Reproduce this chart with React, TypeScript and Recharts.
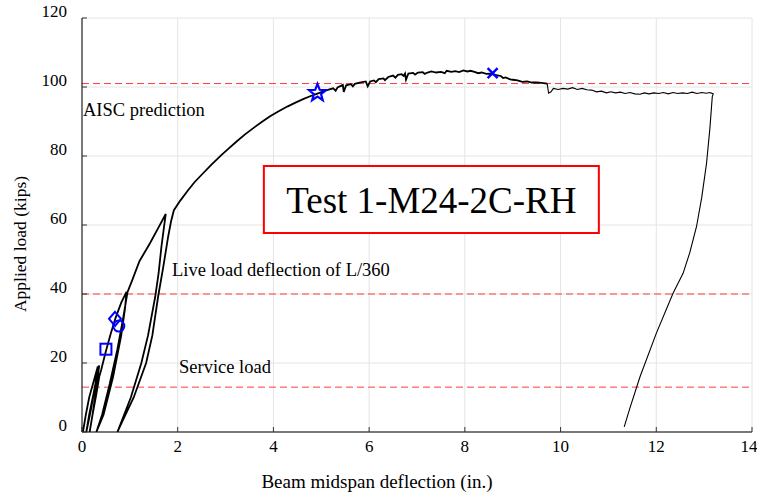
import React from 'react';
import {
  ComposedChart,
  Line,
  Scatter,
  XAxis,
  YAxis,
  CartesianGrid,
  ReferenceLine,
  ReferenceArea,
} from 'recharts';

const FONT = "'Liberation Serif', 'Times New Roman', Times, serif";
const BLUE = '#0000ff';
const RED = '#ff3b3b';

const xTicks = [0, 2, 4, 6, 8, 10, 12, 14];
const yTicks = [0, 20, 40, 60, 80, 100, 120];

// [deflection (in.), load (kips)], in test order
const smallCycles = [
  [0.02, 0], [0.08, 5], [0.15, 10], [0.25, 15], [0.33, 19],
  [0.28, 14], [0.18, 6], [0.09, 0],
  [0.15, 5], [0.24, 11], [0.31, 16], [0.36, 19.3],
  [0.3, 13], [0.22, 5], [0.16, 0],
  [0.22, 5], [0.3, 11], [0.36, 16], [0.4, 18],
];
const cycle40 = [
  [0.5, 23.5], [0.6, 28.5], [0.7, 33], [0.82, 37.5], [0.93, 40.6],
  [0.9, 36], [0.82, 28], [0.65, 16], [0.45, 5], [0.3, 0],
  [0.42, 5], [0.58, 14], [0.74, 24], [0.86, 33], [0.95, 40.5],
];
const cycle63 = [
  [1.05, 44], [1.2, 49.5], [1.42, 54.7], [1.6, 59.3], [1.75, 63.2],
  [1.7, 58], [1.66, 53.7], [1.6, 46], [1.53, 39.2], [1.38, 28], [1.24, 20],
  [1.02, 10], [0.88, 5], [0.74, 0],
  [0.84, 3], [1.08, 10], [1.34, 20], [1.47, 28], [1.59, 39.2], [1.7, 48],
  [1.8, 56.6], [1.86, 61], [1.92, 64.3],
];
const envelope = [
  [2.05, 67.0], [2.2, 69.8], [2.35, 72.4], [2.53, 75.0], [2.7, 77.4], [2.9, 80.1],
  [3.05, 82.0], [3.23, 84.2], [3.4, 86.2], [3.6, 88.3], [3.77, 90.0], [3.93, 91.5],
  [4.1, 92.9], [4.3, 94.4], [4.45, 95.4], [4.62, 96.5], [4.78, 97.4], [4.92, 98.1],
  [5.1, 99.0], [5.25, 99.6], [5.3, 98.9], [5.34, 99.9], [5.45, 100.6], [5.47, 98.6],
  [5.52, 100.5], [5.62, 100.8], [5.66, 100.2], [5.7, 100.9], [5.8, 101.3], [5.93, 101.6],
  [5.97, 100.2], [6.02, 101.6], [6.1, 101.9], [6.14, 101.4], [6.2, 102.3], [6.3, 102.5],
  [6.33, 102.0], [6.4, 102.9], [6.5, 103.3], [6.55, 102.7], [6.6, 103.5], [6.68, 103.7],
  [6.72, 103.2], [6.75, 103.9], [6.77, 102.1], [6.82, 103.9], [6.92, 104.1], [6.96, 103.6],
  [7.02, 104.2], [7.12, 104.3], [7.16, 103.8], [7.22, 104.2], [7.3, 104.5], [7.4, 104.2],
  [7.5, 104.4], [7.58, 104.0], [7.62, 104.7], [7.72, 104.4], [7.8, 104.6], [7.88, 104.3],
  [7.97, 104.8], [8.05, 104.5], [8.12, 104.7], [8.2, 104.4], [8.28, 104.0], [8.35, 104.2],
  [8.45, 103.8], [8.52, 103.9], [8.6, 103.6], [8.68, 103.4], [8.75, 103.2], [8.8, 102.6],
  [8.85, 102.8], [8.95, 102.2], [9.0, 102.1], [9.1, 101.9], [9.2, 101.5], [9.3, 101.6],
  [9.4, 101.3], [9.5, 101.3], [9.6, 101.2], [9.72, 101.0],
];
const plateau = [
  [9.75, 98.2], [9.8, 98.6], [9.85, 99.6], [9.95, 99.3], [10.05, 99.6], [10.15, 99.4],
  [10.25, 99.8], [10.35, 99.3], [10.45, 99.6], [10.55, 99.2], [10.65, 99.1], [10.75, 98.6],
  [10.85, 98.8], [10.96, 98.3], [11.05, 98.6], [11.15, 98.3], [11.25, 98.5], [11.35, 98.1],
  [11.45, 98.4], [11.55, 98.0], [11.66, 97.9], [11.75, 98.3], [11.85, 98.0], [11.95, 98.3],
  [12.05, 98.1], [12.15, 98.4], [12.25, 98.0], [12.35, 98.4], [12.45, 98.1], [12.55, 98.3],
  [12.65, 98.1], [12.75, 98.5], [12.85, 98.1], [12.95, 98.4], [13.05, 98.2], [13.12, 98.4],
  [13.19, 98.0],
];
const unloading = [
  [13.17, 97.2], [13.12, 88], [13.05, 77.9], [12.95, 68], [12.84, 59.5], [12.7, 52],
  [12.56, 46], [12.35, 40.2], [12.0, 28.6], [11.66, 16], [11.45, 7], [11.33, 1.5],
];

const aiscLoad = 101;
const liveLoad = 40;
const serviceLoad = 13;

const squarePt = [{ x: 0.5, y: 24 }];
const diamondPt = [{ x: 0.69, y: 32.8 }];
const circlePt = [{ x: 0.77, y: 30.7 }];
const starPt = [{ x: 4.92, y: 98.3 }];
const crossPt = [{ x: 8.58, y: 104 }];

const toPoints = (pairs: number[][]) => pairs.map(([x, y]) => ({ x, y }));

const preYield = toPoints([...smallCycles, ...cycle40, ...cycle63, ...envelope]);
const postDrop = toPoints([envelope[envelope.length - 1], ...plateau, ...unloading]);

const XTick = ({ x, y, payload }: any) => (
  <text x={x} y={y} dy={15} textAnchor="middle" fontSize={17} fontFamily={FONT} fill="#000">
    {payload.value}
  </text>
);

const YTick = ({ x, y, payload }: any) => (
  <text x={x} y={y} dy={-1} textAnchor="end" fontSize={17} fontFamily={FONT} fill="#000">
    {payload.value}
  </text>
);

const note = (text: string, dx: number, dy: number) => (p: any) => {
  const vb = p.viewBox || { x: 0, y: 0 };
  return (
    <text x={vb.x + dx} y={vb.y + dy} fontSize={18.5} fontFamily={FONT} fill="#000">
      {text}
    </text>
  );
};

const XTitle = (p: any) => {
  const vb = p.viewBox || { x: 0, y: 0, width: 0 };
  return (
    <text x={vb.x + vb.width / 2 - 40} y={vb.y + 56} textAnchor="middle" fontSize={19} fontFamily={FONT} fill="#000">
      Beam midspan deflection (in.)
    </text>
  );
};

// the y title sits a little below the axis centre in the original figure
const YTitle = () => {
  const cx = 20;
  const cy = 244;
  return (
    <text x={cx} y={cy} dy="0.35em" transform={`rotate(-90, ${cx}, ${cy})`} textAnchor="middle" fontSize={17.5} fontFamily={FONT} fill="#000">
      Applied load (kips)
    </text>
  );
};

const SquareMark = ({ cx, cy }: any) => (
  <rect x={cx - 5.5} y={cy - 5.5} width={11} height={11} fill="none" stroke={BLUE} strokeWidth={2} />
);
const DiamondMark = ({ cx, cy }: any) => (
  <path d={`M${cx},${cy - 7}L${cx + 6},${cy}L${cx},${cy + 7}L${cx - 6},${cy}Z`} fill="none" stroke={BLUE} strokeWidth={2} />
);
const CircleMark = ({ cx, cy }: any) => (
  <circle cx={cx} cy={cy} r={5.5} fill="none" stroke={BLUE} strokeWidth={2} />
);
const StarMark = ({ cx, cy }: any) => {
  const pts: string[] = [];
  for (let i = 0; i < 10; i++) {
    const r = i % 2 === 0 ? 9 : 3.8;
    const a = -Math.PI / 2 + (i * Math.PI) / 5;
    pts.push(`${cx + r * Math.cos(a)},${cy + r * Math.sin(a)}`);
  }
  return <polygon points={pts.join(' ')} fill="none" stroke={BLUE} strokeWidth={2.2} />;
};
const CrossMark = ({ cx, cy }: any) => (
  <path d={`M${cx - 5},${cy - 5}L${cx + 5},${cy + 5}M${cx - 5},${cy + 5}L${cx + 5},${cy - 5}`} stroke={BLUE} strokeWidth={2.4} />
);

export default function App() {
  return (
    <div style={{ position: 'absolute', left: 0, top: 0, background: '#fff' }}>
      <ComposedChart width={757} height={493} margin={{ top: 18, right: 5, bottom: 0, left: 0 }}>
        <CartesianGrid stroke="#e4e4e4" strokeWidth={1} />
        <XAxis
          dataKey="x"
          type="number"
          domain={[0, 14]}
          ticks={xTicks}
          height={61}
          tickSize={-5}
          tickMargin={10}
          tick={<XTick />}
          axisLine={{ stroke: '#000' }}
          tickLine={{ stroke: '#333' }}
          allowDataOverflow
          label={XTitle}
        />
        <XAxis
          xAxisId="top"
          orientation="top"
          type="number"
          domain={[0, 14]}
          ticks={xTicks}
          height={0}
          tickSize={-5}
          tick={false}
          axisLine={{ stroke: '#000' }}
          tickLine={{ stroke: '#333' }}
        />
        <YAxis
          dataKey="y"
          type="number"
          domain={[0, 120]}
          ticks={yTicks}
          width={82}
          tickSize={-5}
          tickMargin={20}
          tick={<YTick />}
          axisLine={{ stroke: '#000' }}
          tickLine={{ stroke: '#333' }}
          allowDataOverflow
          label={YTitle}
        />
        <YAxis
          yAxisId="right"
          orientation="right"
          type="number"
          domain={[0, 120]}
          ticks={yTicks}
          width={0}
          tickSize={-5}
          tick={false}
          axisLine={{ stroke: '#000' }}
          tickLine={{ stroke: '#333' }}
        />
        <ReferenceLine y={aiscLoad} stroke={RED} strokeDasharray="7 4" label={note('AISC prediction', 1, 32)} />
        <ReferenceLine y={liveLoad} stroke={RED} strokeDasharray="7 4" label={note('Live load deflection of L/360', 90, -18)} />
        <ReferenceLine y={serviceLoad} stroke={RED} strokeDasharray="7 4" label={note('Service load', 97, -14)} />
        <ReferenceArea
          x1={3.8}
          x2={10.8}
          y1={57.7}
          y2={77.1}
          fill="#fff"
          fillOpacity={1}
          stroke="#ff0000"
          strokeWidth={2}
          label={{ value: 'Test 1-M24-2C-RH', position: 'center', fontSize: 37, fontFamily: FONT, fill: '#000' }}
        />
        <Line data={preYield} dataKey="y" type="linear" stroke="#000" strokeWidth={1.8} dot={false} isAnimationActive={false} />
        <Line data={postDrop} dataKey="y" type="linear" stroke="#000" strokeWidth={1.1} dot={false} isAnimationActive={false} />
        <Scatter data={squarePt} shape={SquareMark} isAnimationActive={false} />
        <Scatter data={diamondPt} shape={DiamondMark} isAnimationActive={false} />
        <Scatter data={circlePt} shape={CircleMark} isAnimationActive={false} />
        <Scatter data={starPt} shape={StarMark} isAnimationActive={false} />
        <Scatter data={crossPt} shape={CrossMark} isAnimationActive={false} />
      </ComposedChart>
    </div>
  );
}
